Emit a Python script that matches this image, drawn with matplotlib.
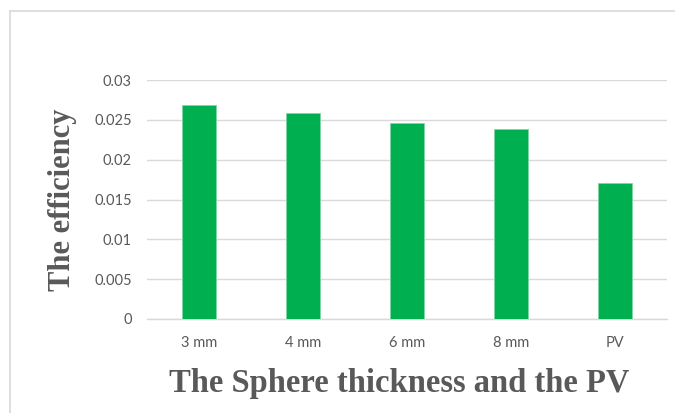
import matplotlib
matplotlib.use("Agg")
import matplotlib.pyplot as plt
from matplotlib.lines import Line2D

categories = ["3 mm", "4 mm", "6 mm", "8 mm", "PV"]
efficiency = [0.0269, 0.0258, 0.0246, 0.0238, 0.0171]
y_ticks = [0, 0.005, 0.01, 0.015, 0.02, 0.025, 0.03]
y_tick_labels = ["0", "0.005", "0.01", "0.015", "0.02", "0.025", "0.03"]

W, H = 675, 413
fig = plt.figure(figsize=(W / 100, H / 100), dpi=100)
fig.patch.set_facecolor("white")

ax = fig.add_axes([147 / W, (H - 319) / H, (667 - 147) / W, (319 - 80) / H])
x = list(range(len(categories)))
ax.bar(x, efficiency, width=0.33, color="#00b050", edgecolor="#7fd6a4",
       linewidth=0.6, zorder=3)

ax.set_xlim(-0.5, len(categories) - 0.5)
ax.set_ylim(0, 0.03)
ax.set_yticks(y_ticks)
ax.set_yticklabels(y_tick_labels)
ax.set_xticks(x)
ax.set_xticklabels(categories)

for lbl in ax.get_xticklabels() + ax.get_yticklabels():
    lbl.set_fontfamily("Lato")
    lbl.set_fontsize(10.5)
    lbl.set_color("#595959")
ax.tick_params(axis="both", length=0)
ax.tick_params(axis="y", pad=11)
ax.tick_params(axis="x", pad=12)

ax.grid(axis="y", color="#d9d9d9", linewidth=1.0, zorder=0)
for side in ["top", "right", "left"]:
    ax.spines[side].set_visible(False)
ax.spines["bottom"].set_color("#d9d9d9")
ax.spines["bottom"].set_linewidth(1.0)

ax.set_xlabel("The Sphere thickness and the PV", family="Liberation Serif",
              fontweight="bold", fontsize=23.5, color="#595959")
ax.xaxis.set_label_coords((399.5 - 147) / (667 - 147), -0.205)
ax.set_ylabel("The efficiency", family="Liberation Serif", fontweight="bold",
              fontsize=22, color="#595959", labelpad=12)

# light frame around the chart area
fig.add_artist(Line2D([9.5 / W, 9.5 / W], [0, (H - 11) / H], color="#d9d9d9",
                      linewidth=1.2, transform=fig.transFigure))
fig.add_artist(Line2D([9.5 / W, 1], [(H - 11) / H, (H - 11) / H], color="#d9d9d9",
                      linewidth=1.2, transform=fig.transFigure))

fig.savefig("out.png", dpi=100, facecolor="white")
